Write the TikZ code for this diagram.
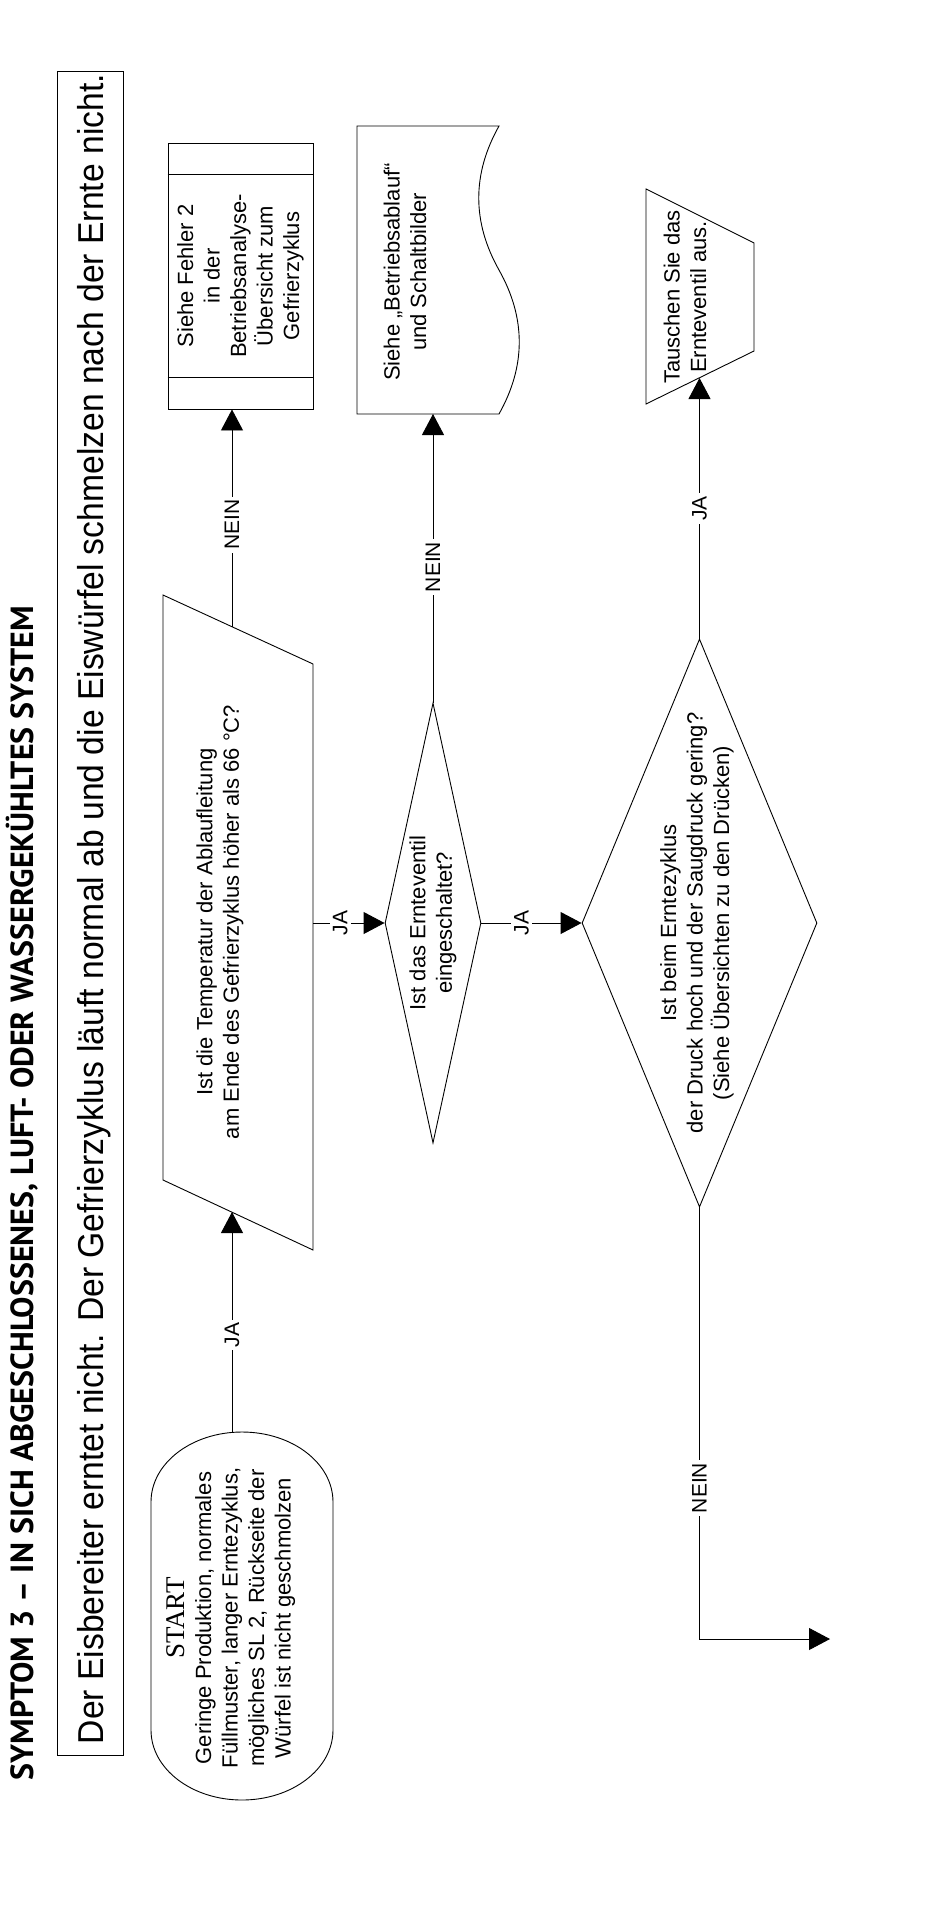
\documentclass[tikz,border=0pt]{standalone}
\usepackage{graphicx}
\usepackage{fontspec}
\setmainfont{Liberation Sans}
\newfontfamily\startfont{Liberation Serif}
\newfontfamily\titelfont{PT Sans}
\usetikzlibrary{arrows.meta, positioning, calc, shapes.geometric}

\begin{document}
\begin{tikzpicture}[
    x=1pt, y=-1pt,
    line width=0.9pt,
    flow/.style={-{Triangle[length=21pt, width=22pt]}, line width=0.9pt},
    txt/.style={rotate=90, align=center, inner sep=0pt, font=\fontsize{22}{26.5}\selectfont},
    lbl/.style={rotate=90, fill=white, inner sep=3pt, font=\fontsize{21}{24}\selectfont},
    frage/.style={draw, diamond, inner sep=0pt},
]
\useasboundingbox (0,0) rectangle (950,1921);

% Ueberschrift
\node[rotate=90, font=\titelfont\bfseries\fontsize{32}{34}\selectfont] (titel) at (22,1193)
    {SYMPTOM 3 – IN SICH ABGESCHLOSSENES, LUFT- ODER WASSERGEKÜHLTES SYSTEM};
\node[draw, minimum width=66pt, minimum height=1684pt] (kopf) at (90,913) {};
\node[rotate=90, font=\fontsize{36}{40}\selectfont] (kopftxt) at (94,909)
    {\scalebox{0.935}[1]{Der Eisbereiter erntet nicht. Der Gefrierzyklus läuft normal ab und die Eiswürfel schmelzen nach der Ernte nicht.}};

% Start (abgerundet)
\draw (151,1502) .. controls (151,1463) and (192,1432) .. (242,1432)
    .. controls (292,1432) and (333,1463) .. (333,1502) -- (333,1730)
    .. controls (333,1769) and (292,1800) .. (242,1800)
    .. controls (192,1800) and (151,1769) .. (151,1730) -- cycle;
\node[txt] (start) at (231,1618)
    {{\startfont\fontsize{27}{30}\selectfont START}\\Geringe Produktion, normales\\Füllmuster, langer Erntezyklus,\\mögliches SL 2, Rückseite der\\Würfel ist nicht geschmolzen};
\coordinate (start-oben) at (232,1432);

% Temperatur der Ablaufleitung (Parallelogramm)
\draw (163,595) -- (313,664) -- (313,1250) -- (163,1180) -- cycle;
\node[txt] (temp) at (220,922)
    {Ist die Temperatur der Ablaufleitung\\am Ende des Gefrierzyklus höher als 66 °C?};
\coordinate (temp-unten) at (232,1212);
\coordinate (temp-oben) at (232,627);
\coordinate (temp-rechts) at (313,923);

% Fehler 2
\node[draw, minimum width=145pt, minimum height=266pt, inner sep=0pt] (fehler) at (240.5,276) {};
\draw ($(fehler.north west)+(0,32)$) -- ($(fehler.north east)+(0,32)$);
\draw ($(fehler.south west)+(0,-32)$) -- ($(fehler.south east)+(0,-32)$);
\node[txt] (fehlertxt) at (fehler) {Siehe Fehler 2\\in der\\Betriebsanalyse-\\Übersicht zum\\Gefrierzyklus};

% Dokument
\draw (357,126) -- (499,126) .. controls (472,174) and (472,222) .. (499,270)
    .. controls (526,318) and (526,366) .. (499,414) -- (357,414) -- cycle;
\node[txt] (doc) at (405,272) {Siehe „Betriebsablauf“\\und Schaltbilder};
\coordinate (doc-unten) at (433,414);

% Entscheidungen
\node[frage, minimum width=96pt, minimum height=440pt] (eventil) at (433,923) {};
\node[txt] (eventiltxt) at (eventil) {Ist das Ernteventil\\eingeschaltet?};
\node[frage, minimum width=235pt, minimum height=568pt] (ernte) at (699.5,923) {};
\node[txt] (erntetxt) at (697,923)
    {Ist beim Erntezyklus\\der Druck hoch und der Saugdruck gering?\\(Siehe Übersichten zu den Drücken)};

% Ernteventil tauschen
\draw (646,189) -- (754,243) -- (754,351) -- (646,404) -- cycle;
\node[txt] (tausch) at (685,297) {Tauschen Sie das\\Ernteventil aus.};
\coordinate (tausch-unten) at (699,378);
\coordinate (ende) at (830,1639);

% Verbindungen
\draw[flow] (start-oben) -- node[lbl, pos=.44] {JA} (temp-unten);
\draw[flow] (temp-oben) -- node[lbl, pos=.47] {NEIN} (temp-oben |- fehler.south);
\draw[flow] (temp-rechts) -- node[lbl, pos=.38] {JA} (eventil.west);
\draw[flow] (eventil.north) -- node[lbl, pos=.47] {NEIN} (eventil.north |- doc-unten);
\draw[flow] (eventil.east) -- node[lbl, pos=.4] {JA} (ernte.west);
\draw[flow] (ernte.north) -- node[lbl, pos=.5] {JA} (ernte.north |- tausch-unten);
\draw[flow] (ernte.south) -- node[lbl, pos=.65] {NEIN} (ernte.south |- ende) -- (ende);

\end{tikzpicture}
\end{document}
